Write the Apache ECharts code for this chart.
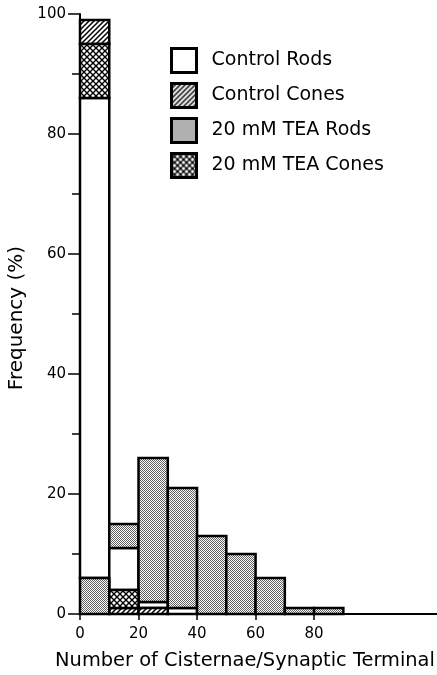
<!DOCTYPE html>
<html>
<head>
<meta charset="utf-8">
<script src="https://cdn.jsdelivr.net/npm/echarts@6/dist/echarts.min.js"></script>
<style>
html,body{margin:0;padding:0;background:#fff;}
#chart{width:437px;height:675px;}
</style>
</head>
<body>
<div id="chart"></div>
<script>
// ---- Data (percent frequency per bin of 10 cisternae) ----
const binStarts = [0, 10, 20, 30, 40, 50, 60, 70, 80];
const binWidth = 10;
const seriesNames = ['Control Rods', 'Control Cones', '20 mM TEA Rods', '20 mM TEA Cones'];
const controlRods   = [80, 7, 1, 1, 0, 0, 0, 0, 0];
const controlCones  = [4, 1, 1, 0, 0, 0, 0, 0, 0];
const teaRods       = [6, 4, 24, 20, 13, 10, 6, 1, 1];
const teaCones      = [9, 3, 0, 0, 0, 0, 0, 0, 0];
// stacking order of the segments in each bin, bottom to top (indices into seriesNames)
const stackOrder = [
  [2, 0, 3, 1],
  [1, 3, 0, 2],
  [1, 0, 2],
  [0, 2],
  [2], [2], [2], [2], [2]
];
const xTickLabels = [0, 20, 40, 60, 80];
const yTickLabels = [0, 20, 40, 60, 80, 100];

const values = [controlRods, controlCones, teaRods, teaCones];

// ---- Fill patterns ----
function makeCanvas(size, draw) {
  const c = document.createElement('canvas');
  c.width = size; c.height = size;
  const ctx = c.getContext('2d');
  ctx.fillStyle = '#fff';
  ctx.fillRect(0, 0, size, size);
  draw(ctx, size);
  return c;
}
const hatch = makeCanvas(5, (ctx, s) => {
  ctx.strokeStyle = '#000'; ctx.lineWidth = 1.5;
  ctx.beginPath();
  ctx.moveTo(-1, s + 1); ctx.lineTo(s + 1, -1);
  ctx.moveTo(-1, 1); ctx.lineTo(1, -1);
  ctx.moveTo(s - 1, s + 1); ctx.lineTo(s + 1, s - 1);
  ctx.stroke();
});
const cross = makeCanvas(6, (ctx, s) => {
  ctx.strokeStyle = '#000'; ctx.lineWidth = 1.4;
  ctx.beginPath();
  ctx.moveTo(-1, s + 1); ctx.lineTo(s + 1, -1);
  ctx.moveTo(-1, -1); ctx.lineTo(s + 1, s + 1);
  ctx.stroke();
});
const stipple = makeCanvas(2, (ctx) => {
  ctx.fillStyle = 'rgba(0,0,0,0.62)';
  ctx.fillRect(0, 0, 1, 1);
  ctx.fillRect(1, 1, 1, 1);
});
const fills = [
  '#ffffff',
  { image: hatch, repeat: 'repeat' },
  { image: stipple, repeat: 'repeat' },
  { image: cross, repeat: 'repeat' }
];

// ---- Build segment data ----
const segData = seriesNames.map(() => []);
binStarts.forEach((x0, b) => {
  let base = 0;
  stackOrder[b].forEach((si) => {
    const v = values[si][b];
    if (v > 0) {
      segData[si].push([x0, x0 + binWidth, base, base + v]);
      base += v;
    }
  });
});

const FONT = 'DejaVu Sans';

const series = seriesNames.map((name, si) => ({
  name: name,
  type: 'custom',
  itemStyle: { color: fills[si], borderColor: '#000', borderWidth: 2.5 },
  encode: { x: [0, 1], y: [2, 3] },
  data: segData[si],
  renderItem: function (params, api) {
    const p0 = api.coord([api.value(0), api.value(3)]);
    const p1 = api.coord([api.value(1), api.value(2)]);
    return {
      type: 'rect',
      shape: { x: p0[0], y: p0[1], width: p1[0] - p0[0], height: p1[1] - p0[1] },
      style: { fill: fills[si], stroke: '#000', lineWidth: 2.5 }
    };
  }
}));

const chart = echarts.init(document.getElementById('chart'), null, { renderer: 'canvas' });
chart.setOption({
  animation: false,
  backgroundColor: '#fff',
  grid: { left: 80, right: 0, top: 14, bottom: 61, containLabel: false, outerBoundsMode: 'none' },
  legend: {
    orient: 'vertical',
    left: 165,
    top: 42,
    itemWidth: 25,
    itemHeight: 24,
    itemGap: 8,
    icon: 'rect',
    selectedMode: false,
    textStyle: { fontFamily: FONT, fontSize: 19, color: '#000', padding: [0, 0, 0, 10] },
    data: seriesNames.map((n, i) => ({
      name: n,
      itemStyle: { color: fills[i], borderColor: '#000', borderWidth: 3 }
    }))
  },
  xAxis: {
    type: 'value',
    min: 0,
    max: 122,
    interval: 20,
    name: 'Number of Cisternae/Synaptic Terminal',
    nameLocation: 'middle',
    nameGap: 37,
    nameTextStyle: { fontFamily: FONT, fontSize: 19.4, color: '#000', padding: [0, 27, 0, 0] },
    axisLine: { show: true, lineStyle: { color: '#000', width: 2 } },
    axisTick: { show: true, length: 6, lineStyle: { color: '#000', width: 1.5 }, customValues: xTickLabels },
    axisLabel: { fontFamily: FONT, fontSize: 15, color: '#000', margin: 13, customValues: xTickLabels },
    splitLine: { show: false }
  },
  yAxis: {
    type: 'value',
    min: 0,
    max: 100,
    interval: 20,
    name: 'Frequency (%)',
    nameLocation: 'middle',
    nameGap: 50,
    nameTextStyle: { fontFamily: FONT, fontSize: 20, color: '#000', padding: [0, 8, 0, 0] },
    axisLine: { show: true, lineStyle: { color: '#000', width: 2 } },
    axisTick: { show: true, length: 12, lineStyle: { color: '#000', width: 1.5 } },
    minorTick: { show: true, splitNumber: 2, length: 8, lineStyle: { color: '#000', width: 1.5 } },
    axisLabel: { fontFamily: FONT, fontSize: 15, color: '#000', margin: 14, customValues: yTickLabels },
    splitLine: { show: false },
    minorSplitLine: { show: false }
  },
  series: series
});
</script>
</body>
</html>
